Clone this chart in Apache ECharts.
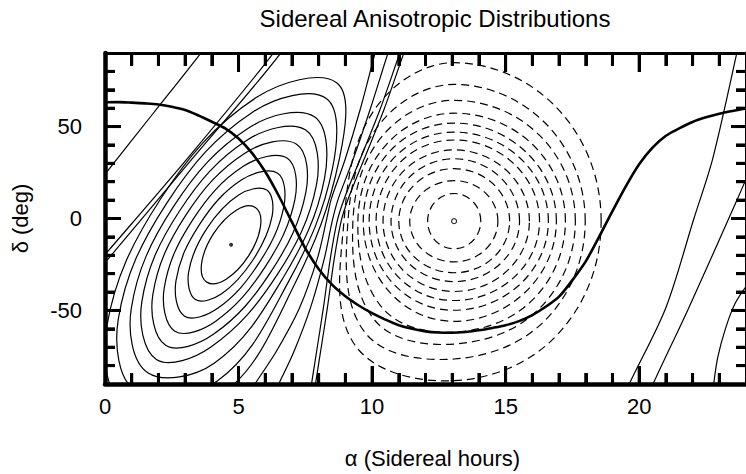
<!DOCTYPE html>
<html>
<head>
<meta charset="utf-8">
<script src="https://cdn.jsdelivr.net/npm/echarts@6/dist/echarts.min.js"></script>
<style>
  html, body { margin: 0; padding: 0; background: #fff; }
  #chart { width: 746px; height: 474px; }
</style>
</head>
<body>
<div id="chart"></div>
<script>
// Axis ticks (right ascension in sidereal hours, declination in degrees)
const xMajorTicks = [0, 5, 10, 15, 20];
const xMinorTicks = [1, 2, 3, 4, 6, 7, 8, 9, 11, 12, 13, 14, 16, 17, 18, 19, 21, 22, 23];
const yMajorTicks = [-50, 0, 50];
const yMinorTicks = [-80, -70, -60, -40, -30, -20, -10, 10, 20, 30, 40, 60, 70, 80];

// Extrema of the distribution [alpha, delta]
const excessPeak = [[4.72, -14.3]];
const deficitPeak = [[13.07, -1.45]];

// Closed contours of the excess (solid), each a ring of [alpha, delta] points
const excessLoops = [
  [[5.63, 6.0], [5.37, -20.5], [3.81, -34.6], [4.07, -8.1]],
  [[6.058, 15.56], [6.257, 1.25], [5.557, -22.15], [4.367, -40.93], [3.384, -44.11], [3.129, -29.27], [3.804, -5.65], [5.018, 12.91]],
  [[6.464, 24.60], [6.693, 6.23], [5.769, -24.14], [4.231, -48.73], [2.979, -53.15], [2.657, -33.92], [3.542, -3.18], [5.119, 21.04]],
  [[6.828, 32.74], [7.111, 10.46], [5.997, -26.29], [4.134, -55.99], [2.614, -61.29], [2.216, -37.94], [3.283, -0.74], [5.193, 28.51]],
  [[7.173, 40.42], [7.522, 14.32], [6.234, -28.52], [4.058, -63.00], [2.270, -68.98], [1.788, -41.63], [3.021, 1.72], [5.252, 35.68]],
  [[7.517, 48.10], [7.917, 18.32], [6.449, -30.54], [3.967, -69.86], [1.925, -76.66], [1.377, -45.49], [2.784, 3.95], [5.327, 42.69]],
  [[7.841, 55.34], [8.216, 21.55], [6.658, -32.51], [4.089, -78.66], [1.601, -83.90], [0.983, -49.04], [2.551, 6.16], [5.391, 49.36]],
  [[8.287, 65.28], [8.513, 26.94], [6.867, -34.48], [4.201, -88.36], [1.155, -93.84], [0.500, -54.50], [2.313, 8.39], [5.538, 57.97]],
  [[8.672, 73.87], [8.773, 32.33], [7.076, -36.45], [4.349, -95.91], [0.770, -102.4], [0.063, -59.01], [2.080, 10.59], [5.645, 65.60]]
];

// Open contours of the excess (solid), running off the map edges
const excessOpen = [
  [[3.70, 93], [3.53, 88.9], [1.80, 57.1], [0.07, 25.3], [-0.2, 20]],
  [[5.353, -95.91], [5.613, -89.98], [6.394, -72.74], [7.286, -48.49], [7.955, -21.55], [8.290, -1.08],
   [8.476, 10.78], [8.996, 32.33], [9.554, 59.27], [10.112, 89.98], [10.297, 99.68], [8.364, 103.4],
   [6.691, 98.06], [6.580, 89.98], [3.160, 30.71], [-0.074, -25.32], [-0.372, -30.71]],
  [[6.320, -95.91], [6.506, -89.98], [7.063, -72.74], [7.695, -48.49], [8.216, -21.55], [8.513, -1.08],
   [8.736, 10.78], [9.294, 32.33], [9.926, 59.27], [10.595, 89.98], [10.818, 99.14], [8.364, 104.5],
   [6.431, 95.9], [6.245, 88.9], [3.160, 33.94], [0.112, -17.78], [-0.186, -22.63]],
  [[7.658, -96.98], [7.732, -89.98], [7.918, -72.74], [8.178, -48.49], [8.439, -21.55], [8.699, -1.08],
   [8.959, 10.78], [9.554, 32.33], [10.297, 59.27], [11.041, 89.98], [11.264, 98.06]],
  [[7.807, -96.98], [7.881, -89.98], [8.067, -72.74], [8.327, -48.49], [8.587, -21.55], [8.848, -1.08],
   [9.108, 10.78], [9.703, 32.33], [10.446, 59.27], [11.190, 89.98], [11.413, 98.06]],
  [[19.50, -95], [19.63, -90], [21.00, -48.5], [22.05, 0], [22.75, 32.3], [23.64, 89], [23.70, 95]],
  [[20.40, -95], [20.52, -90], [21.86, -48.5], [23.60, 8], [24.20, 28]],
  [[22.77, -95], [22.79, -90], [22.94, -75.6], [23.24, -59.5], [23.60, -46], [24.10, -35]]
];

// Closed contours of the deficit (dashed)
const deficitLoops = [
  [[14.07, -1.45], [13.07, 13.6], [12.08, -1.45], [13.07, -16.5]],
  [[14.71, -1.45], [13.07, 20.6], [11.41, -1.45], [13.07, -23.6]],
  [[15.15, -1.45], [13.07, 27.1], [11.00, -1.45], [13.07, -29.5]],
  [[15.52, -1.45], [13.07, 32.5], [10.71, -1.45], [13.07, -34.3]],
  [[15.89, -1.45], [13.07, 37.3], [10.41, -1.45], [13.07, -39.7]],
  [[16.27, -1.45], [13.07, 42.7], [10.15, -1.45], [13.07, -44.6]],
  [[16.60, -1.45], [13.07, 47.0], [9.89, -1.45], [13.07, -49.9]],
  [[16.90, -1.45], [13.07, 51.9], [9.67, -1.45], [13.07, -55.9]],
  [[17.238, -1.45], [16.019, 40.09], [13.074, 57.27], [10.524, 40.09], [9.468, -1.45], [10.398, -48.87], [13.074, -61.8], [16.019, -44.13]],
  [[17.61, -1.45], [16.283, 45.04], [13.074, 64.28], [10.394, 45.04], [9.283, -1.45], [10.100, -55.33], [13.074, -68.27], [16.283, -48.71]],
  [[17.98, -1.45], [16.543, 50.97], [13.074, 72.9], [10.264, 50.97], [9.097, -1.45], [9.729, -61.9], [13.074, -76.4], [16.543, -54.42]],
  [[18.576, -1.45], [16.963, 59.48], [13.074, 84.75], [10.104, 59.48], [8.948, -1.45], [9.357, -68.8], [13.074, -88.2], [16.963, -62.77]]
];

// Galactic plane [alpha, delta]
const galacticPlane = [
  [0, 63.2], [0.5, 63.3], [1.0, 63.0], [1.5, 62.6], [2.0, 62.0], [2.5, 60.8], [3.0, 59.0],
  [3.5, 56.0], [4.0, 52.6], [4.5, 49.0], [5.0, 43.5], [5.5, 35.7], [6.0, 25.4], [6.5, 12.5],
  [7.0, -2.0], [7.5, -16.2], [8.0, -27.5], [8.5, -36.0], [9.0, -42.3], [9.5, -47.3], [10.0, -51.5],
  [10.5, -55.0], [11.0, -58.0], [11.5, -60.0], [12.0, -61.4], [12.5, -62.0], [13.0, -62.1],
  [13.5, -61.7], [14.0, -60.8], [14.5, -59.5], [15.0, -58.0], [15.5, -55.8], [16.0, -52.5],
  [16.5, -48.0], [17.0, -42.5], [17.5, -33.5], [18.0, -23.3], [18.5, -10.0], [19.0, 4.0],
  [19.5, 17.5], [20.0, 29.5], [20.5, 38.5], [21.0, 45.0], [21.5, 49.0], [22.0, 52.5],
  [22.5, 55.0], [23.0, 57.0], [23.5, 58.5], [24.0, 59.8]
];

const FONT = '"Liberation Sans", Arial, Helvetica, sans-serif';
const GRID = { left: 105, top: 53, width: 646, height: 334 };

function contourSeries(name, loops, closed, dash, width) {
  return {
    type: 'custom',
    name: name,
    coordinateSystem: 'cartesian2d',
    clip: true,
    silent: true,
    data: loops.map((_, i) => [i, 0]),
    renderItem: function (params, api) {
      const ring = loops[api.value(0)];
      const pts = ring.map(p => api.coord(p));
      const cs = params.coordSys;
      const smooth = closed ? (ring.length <= 4 ? 0.55 : 0.375) : 0.3;
      return {
        type: closed ? 'polygon' : 'polyline',
        shape: { points: pts, smooth: smooth },
        clipPath: { type: 'rect', shape: { x: cs.x, y: cs.y, width: cs.width, height: cs.height } },
        style: { fill: 'none', stroke: '#000', lineWidth: width, lineDash: dash }
      };
    }
  };
}

// Inward tick marks: [edge, value, length in px]
const tickList = [].concat(
  xMinorTicks.map(v => ['bottom', v, 11]), xMajorTicks.map(v => ['bottom', v, 18]),
  xMinorTicks.map(v => ['top', v, 13]), xMajorTicks.map(v => ['top', v, 19]),
  yMinorTicks.map(v => ['left', v, 10]), yMajorTicks.map(v => ['left', v, 16]),
  yMinorTicks.map(v => ['right', v, 10]), yMajorTicks.map(v => ['right', v, 15])
);

const tickSeries = {
  type: 'custom',
  name: 'ticks',
  coordinateSystem: 'cartesian2d',
  clip: true,
  silent: true,
  z: 10,
  data: tickList.map((_, i) => [1, 0, i]),
  renderItem: function (params, api) {
    const t = tickList[api.value(2)];
    const cs = params.coordSys;
    const top = cs.y, bottom = cs.y + cs.height, left = cs.x, right = cs.x + cs.width;
    let pts;
    if (t[0] === 'bottom') { const x = api.coord([t[1], 0])[0]; pts = [[x, bottom], [x, bottom - t[2]]]; }
    else if (t[0] === 'top') { const x = api.coord([t[1], 0])[0]; pts = [[x, top], [x, top + t[2]]]; }
    else if (t[0] === 'left') { const y = api.coord([0, t[1]])[1]; pts = [[left, y], [left + t[2], y]]; }
    else { const y = api.coord([0, t[1]])[1]; pts = [[right, y], [right - t[2], y]]; }
    return {
      type: 'polyline',
      shape: { points: pts, smooth: 0 },
      style: { fill: 'none', stroke: '#000', lineWidth: 3 }
    };
  }
};

// Same ticks as marker segments in data units (px length / axis scale)
const PX_PER_HOUR = 646 / 24, PX_PER_DEG = 334 / 180;
const tickSegments = tickList.map(t => {
  if (t[0] === 'bottom') return [{ coord: [t[1], -90] }, { coord: [t[1], -90 + t[2] / PX_PER_DEG] }];
  if (t[0] === 'top') return [{ coord: [t[1], 90] }, { coord: [t[1], 90 - t[2] / PX_PER_DEG] }];
  if (t[0] === 'left') return [{ coord: [0, t[1]] }, { coord: [t[2] / PX_PER_HOUR, t[1]] }];
  return [{ coord: [24, t[1]] }, { coord: [24 - t[2] / PX_PER_HOUR, t[1]] }];
});

function axisBase(extra) {
  return Object.assign({
    type: 'value',
    gridIndex: 0,
    splitLine: { show: false },
    axisTick: { show: false },
    axisLabel: { show: false }
  }, extra);
}

const frameLine = w => ({ show: true, onZero: false, lineStyle: { color: '#000', width: w } });
const labelStyle = { show: true, fontSize: 22, color: '#000', fontFamily: FONT };

const chart = echarts.init(document.getElementById('chart'), null, { renderer: 'svg' });
chart.setOption({
  animation: false,
  backgroundColor: '#fff',
  grid: GRID,
  graphic: [{
    type: 'text', x: 435, y: 6,
    style: { text: 'Sidereal Anisotropic Distributions', fontSize: 24, fill: '#000',
      fontFamily: FONT, textAlign: 'center', textVerticalAlign: 'top' }
  }],
  xAxis: [
    axisBase({ min: 0, max: 24, interval: 5, position: 'bottom', axisLine: frameLine(4.5),
      axisLabel: Object.assign({ margin: 11, showMaxLabel: false,
        formatter: v => (xMajorTicks.indexOf(v) >= 0 ? String(v) : '') }, labelStyle),
      name: 'α (Sidereal hours)', nameLocation: 'middle', nameGap: 63,
      nameTextStyle: { fontSize: 22, color: '#000', fontFamily: FONT, padding: [0, 0, 0, 14] } }),
    axisBase({ min: 0, max: 24, position: 'top', axisLine: frameLine(3) })
  ],
  yAxis: [
    axisBase({ min: -90, max: 90, position: 'left', axisLine: frameLine(4.5),
      axisLabel: Object.assign({ customValues: yMajorTicks, margin: 23 }, labelStyle),
      name: 'δ (deg)', nameLocation: 'middle', nameGap: 74,
      nameTextStyle: { fontSize: 22, color: '#000', fontFamily: FONT } }),
    axisBase({ min: -90, max: 90, position: 'right', axisLine: frameLine(3) })
  ],
  series: [
    contourSeries('excess', excessLoops, true, null, 1.2),
    contourSeries('excess-open', excessOpen, false, null, 1.2),
    contourSeries('deficit', deficitLoops, true, [8, 5], 1.2),
    {
      type: 'line', name: 'galactic plane', data: galacticPlane, smooth: 0.3,
      showSymbol: false, clip: true, silent: true,
      lineStyle: { color: '#000', width: 2.6 }
    },
    {
      type: 'scatter', data: excessPeak, symbol: 'circle', symbolSize: 4,
      itemStyle: { color: '#000' }, silent: true
    },
    {
      type: 'scatter', data: deficitPeak, symbol: 'circle', symbolSize: 5,
      itemStyle: { color: '#fff', borderColor: '#000', borderWidth: 1.2 }, silent: true
    },
    tickSeries,
    {
      type: 'line', name: 'tick marks', data: [], silent: true,
      markLine: {
        silent: true, symbol: ['none', 'none'], label: { show: false },
        lineStyle: { color: '#000', width: 3, type: 'solid' },
        emphasis: { disabled: true },
        data: tickSegments
      }
    }
  ]
});
</script>
</body>
</html>
